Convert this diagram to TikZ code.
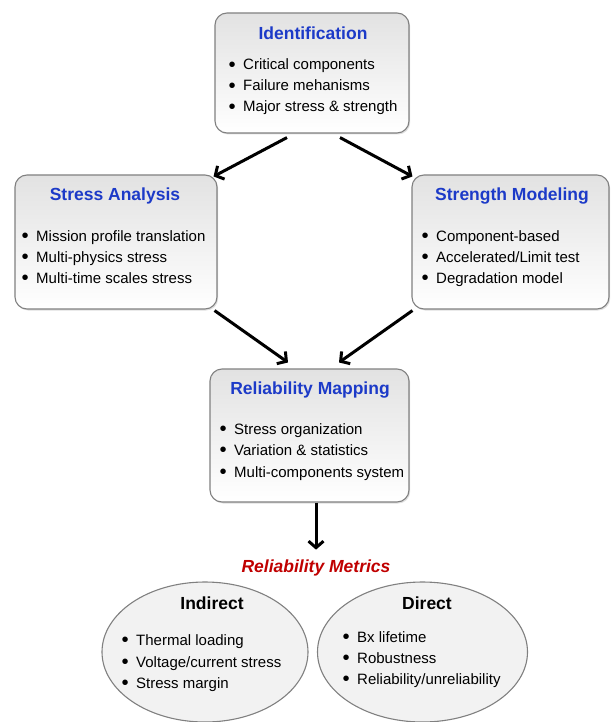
\documentclass[tikz,border=0pt]{standalone}
\usepackage{fontspec}
\setmainfont{Liberation Sans}
\usetikzlibrary{arrows.meta,shadows,calc,shapes.geometric}
\definecolor{titleblue}{RGB}{28,58,200}
\definecolor{metricred}{RGB}{192,0,0}
\definecolor{edgegray}{RGB}{128,128,128}
\definecolor{boxtop}{RGB}{226,226,226}
\definecolor{ovalfill}{RGB}{242,242,242}
\newcommand{\itemdot}{\llap{\raisebox{-1.6pt}{\scalebox{1.35}{\textbullet}}\hspace{7.6pt}}}
\begin{document}
\begin{tikzpicture}[x=1pt,y=-1pt,
  stagebox/.style={draw=edgegray, line width=1.1pt, rounded corners=12pt,
    top color=boxtop, bottom color=white, inner sep=0pt,
    drop shadow={opacity=0.25, shadow xshift=1.2pt, shadow yshift=-1.5pt}},
  metricoval/.style={ellipse, draw=edgegray, line width=1.1pt, fill=ovalfill, inner sep=0pt},
  stagetitle/.style={inner sep=0pt, text=titleblue, font=\fontsize{17.5}{20}\selectfont\bfseries},
  ovaltitle/.style={inner sep=0pt, font=\fontsize{17.5}{20}\selectfont\bfseries},
  item/.style={anchor=west, inner sep=0pt, text height=11pt, text depth=3pt,
    font=\fontsize{15}{18}\selectfont},
  flow/.style={line width=3pt, -{Straight Barb[length=6.5pt,width=15pt]}}
]
\useasboundingbox (0,0) rectangle (611,722);

% stage boxes
\node[stagebox, minimum width=194pt, minimum height=120pt] (id) at (312,73) {};
\node[stagebox, minimum width=202pt, minimum height=134pt] (sa) at (116,242) {};
\node[stagebox, minimum width=197pt, minimum height=134pt] (st) at (510.5,242) {};
\node[stagebox, minimum width=199pt, minimum height=133pt] (rm) at (309.5,435.5) {};

% Identification
\node[stagetitle] (idt) at (313,33) {Identification};
\node[item] (id1) at (243,66) {\itemdot Critical components};
\node[item] (id2) at (243,87) {\itemdot Failure mehanisms};
\node[item] (id3) at (243,108) {\itemdot Major stress \& strength};

% Stress Analysis
\node[stagetitle] (sat) at (115,196) {Stress Analysis};
\node[item] (sa1) at (36,237) {\itemdot Mission profile translation};
\node[item] (sa2) at (36,258) {\itemdot Multi-physics stress};
\node[item] (sa3) at (36,279) {\itemdot Multi-time scales stress};

% Strength Modeling
\node[stagetitle] (stt) at (512,196) {Strength Modeling};
\node[item] (st1) at (436,237) {\itemdot Component-based};
\node[item] (st2) at (436,258) {\itemdot Accelerated/Limit test};
\node[item] (st3) at (436,279) {\itemdot Degradation model};

% Reliability Mapping
\node[stagetitle] (rmt) at (310,390) {Reliability Mapping};
\node[item] (rm1) at (234,430) {\itemdot Stress organization};
\node[item] (rm2) at (234,451) {\itemdot Variation \& statistics};
\node[item] (rm3) at (234,473) {\itemdot Multi-components system};

% metrics
\node[inner sep=0pt, text=metricred, font=\fontsize{17.5}{20}\selectfont\bfseries\itshape] (met) at (316,568) {Reliability Metrics};
\node[metricoval, minimum width=206pt, minimum height=140pt] (ind) at (205,652) {};
\node[metricoval, minimum width=210pt, minimum height=140pt] (dir) at (422.5,652) {};

\node[ovaltitle] (indt) at (212,603) {Indirect};
\node[item] (in1) at (136,641) {\itemdot Thermal loading};
\node[item] (in2) at (136,663) {\itemdot Voltage/current stress};
\node[item] (in3) at (136,684) {\itemdot Stress margin};

\node[ovaltitle] (dirt) at (427,603) {Direct};
\node[item] (di1) at (357,638) {\itemdot Bx lifetime};
\node[item] (di2) at (357,659) {\itemdot Robustness};
\node[item] (di3) at (357,680) {\itemdot Reliability/unreliability};

% connectors
\draw[flow] ($(id.south)+(-25,4)$) -- ($(sa.north east)+(-4,2)$);
\draw[flow] ($(id.south)+(28,4)$) -- ($(st.north west)+(1,2)$);
\draw[flow] ($(sa.south east)+(-3,1)$) -- ($(rm.north)+(-21.5,-6)$);
\draw[flow] ($(st.south west)+(1,1)$) -- ($(rm.north)+(29.5,-6)$);
\draw[flow] ($(rm.south)+(6.5,0)$) -- ($(met.north)+(0,-10)$);
\end{tikzpicture}
\end{document}
